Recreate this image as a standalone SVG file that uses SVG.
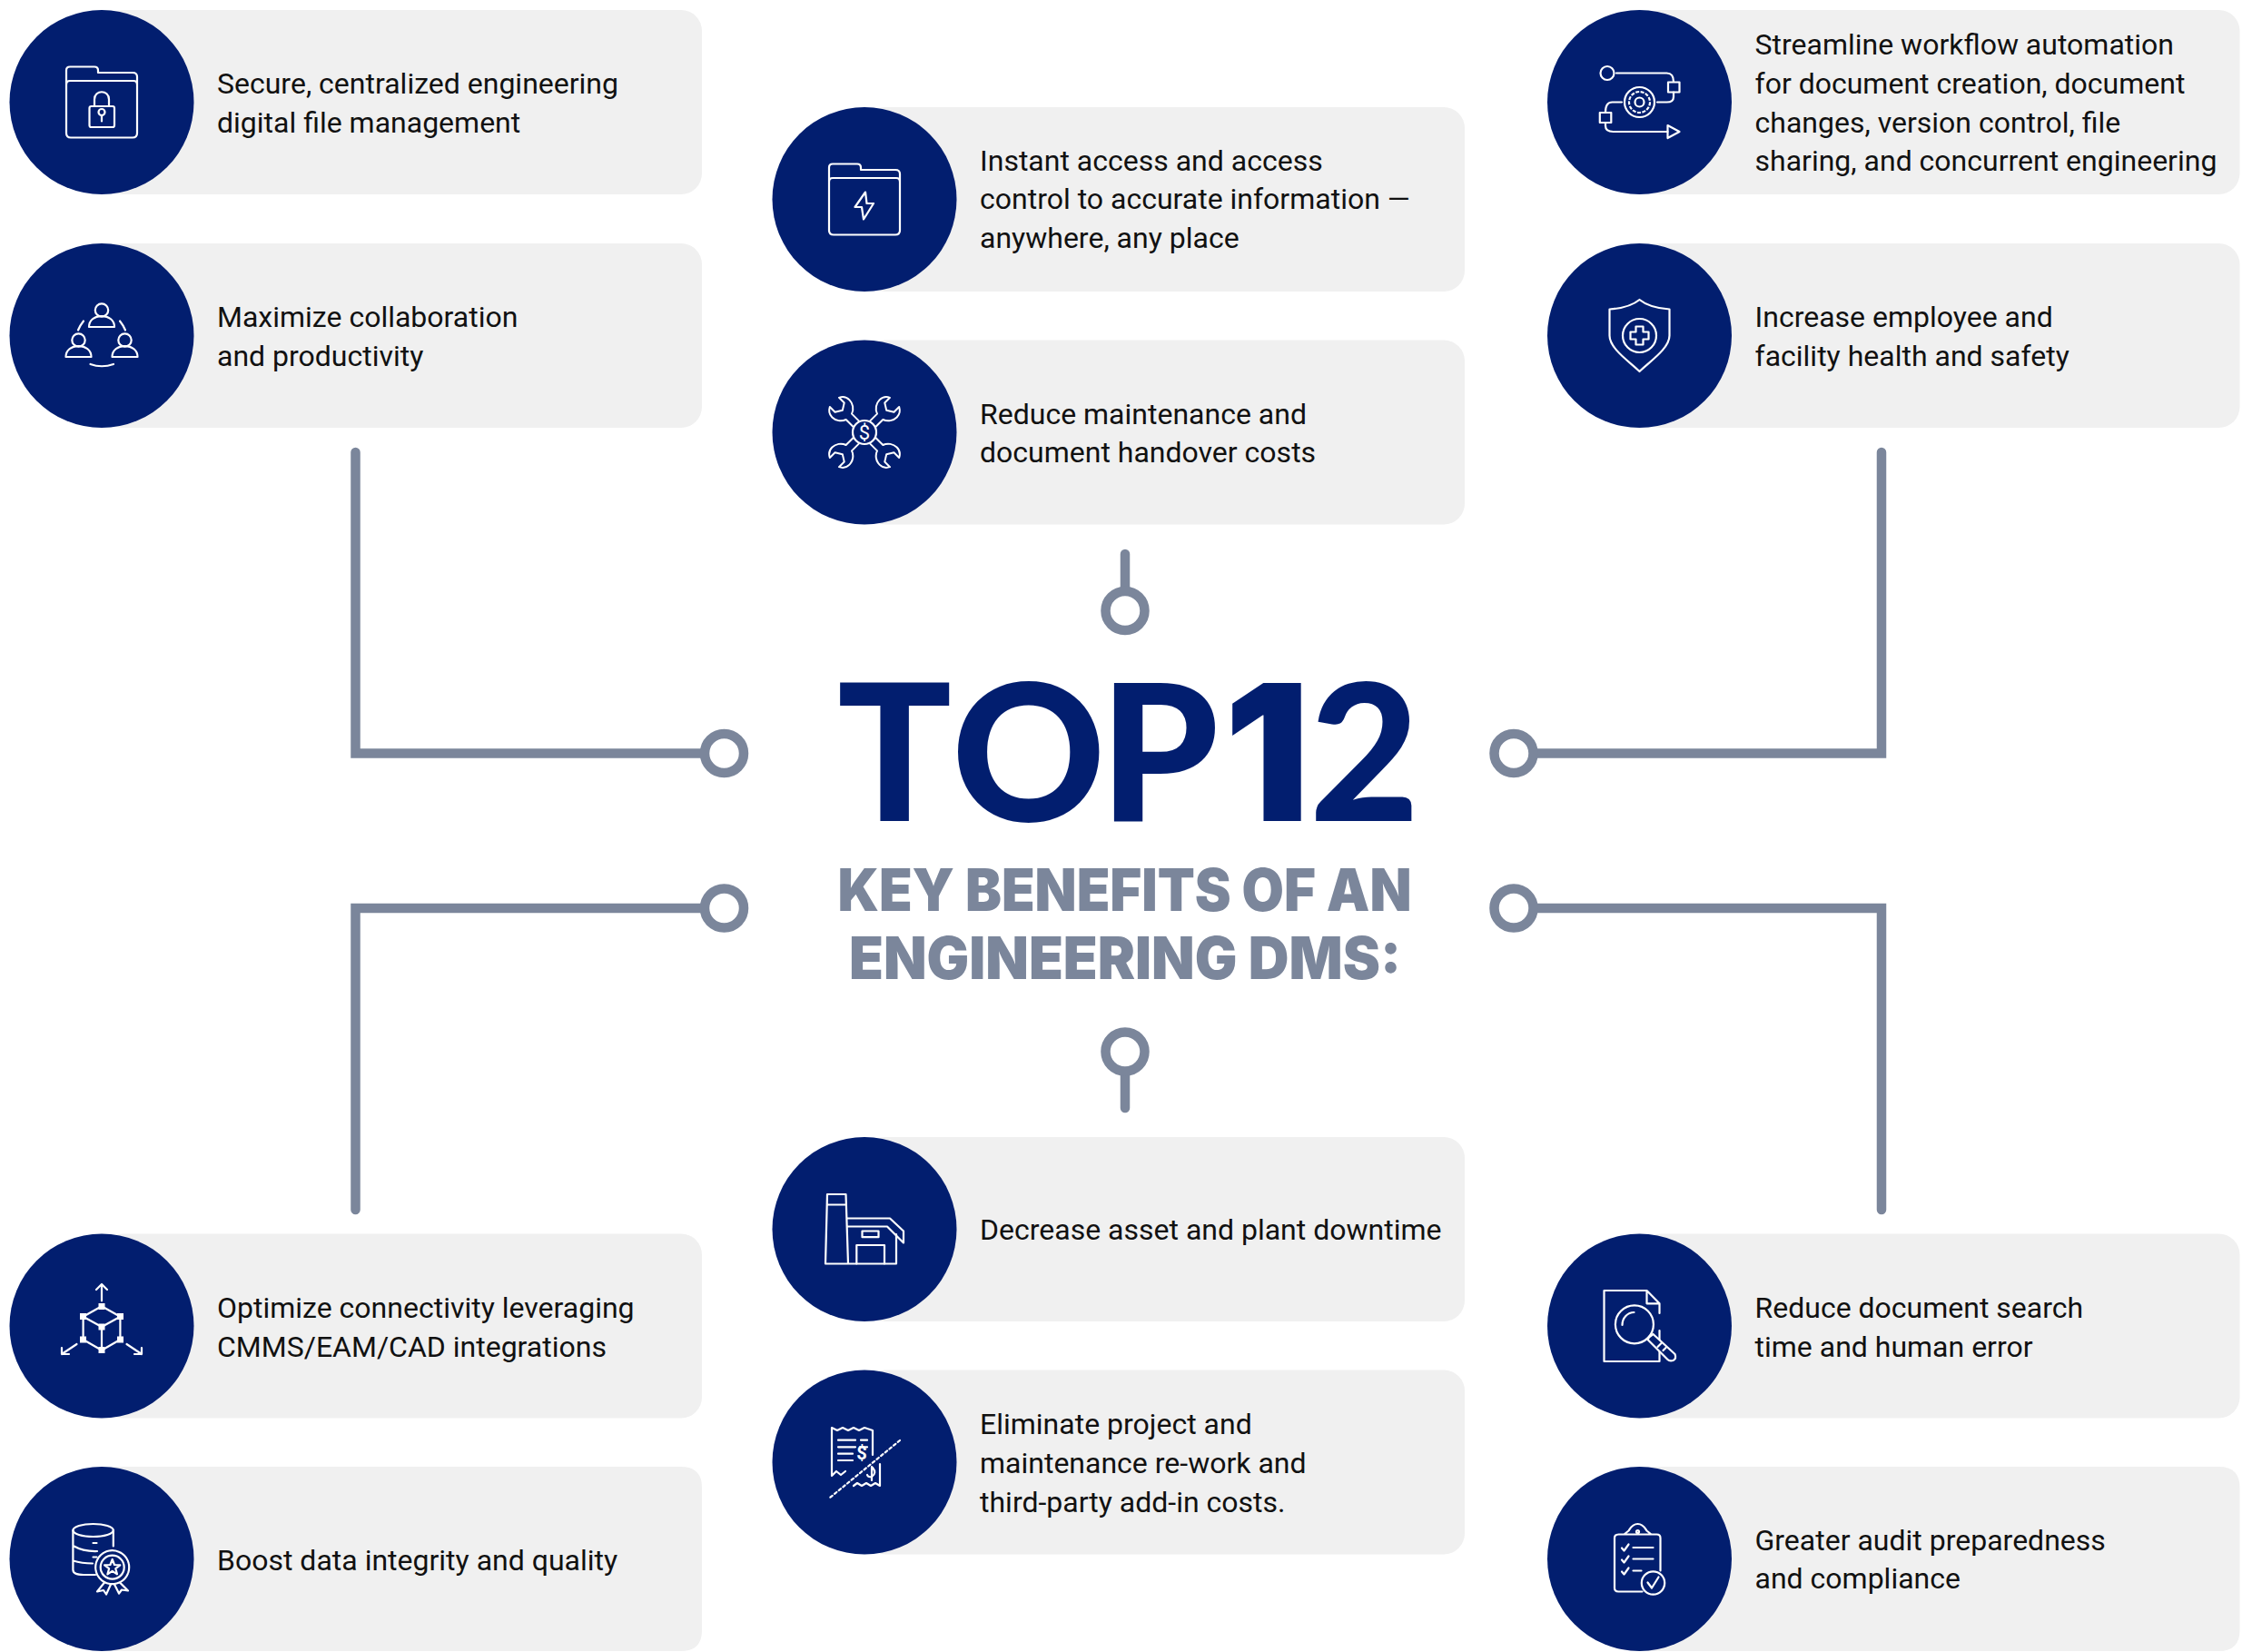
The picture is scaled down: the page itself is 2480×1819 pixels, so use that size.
<svg xmlns="http://www.w3.org/2000/svg" xmlns:xlink="http://www.w3.org/1999/xlink" width="2480" height="1819" viewBox="0 0 2480 1819">
<style>
.card{fill:#f0f0f0}
.disc{fill:#021e6f}
.t{font-family:Roboto,"Liberation Sans",sans-serif;font-size:32px;fill:#111}
.i{fill:none;stroke:#fff;stroke-width:2.2;stroke-linecap:round;stroke-linejoin:round}
.w{fill:#fff;stroke:none}
.c{fill:none;stroke:#7b869b;stroke-width:10.5;stroke-linecap:round}
.r{fill:#fff;stroke:#7b869b;stroke-width:10.5}
.h{font-family:Lato,"Liberation Sans",sans-serif;font-weight:900}
.n{font-family:Inter,"Liberation Sans",sans-serif;font-weight:900}
.s{font-family:Inter,"Liberation Sans",sans-serif;font-weight:900;font-size:64px;fill:#7b869b;text-anchor:middle}
.g{font-family:Roboto,"Liberation Sans",sans-serif;fill:#fff;text-anchor:middle}
</style>
<defs>
<g id="folder" class="i">
<path d="M-35,-23.500 H35 Q39,-23.500 39,-19 V34 Q39,39 34,39 H-34 Q-39,39 -39,34 V-35 Q-39,-39 -35,-39 H-8 Q-4,-39 -4,-35 V-32.500 H34 Q39,-32.500 39,-28 V-19 M-39,-19 Q-39,-23.500 -35,-23.500"/>
</g>
<path id="wr" d="M-5,-14 V-27 C-11,-29 -15,-35 -15,-41 C-15,-46 -12,-50 -8,-52 V-43 L0,-38 L8,-43 V-52 C12,-50 15,-46 15,-41 C15,-35 11,-29 5,-27 V-14"/>
<g id="person" class="i"><circle cx="0" cy="-9" r="7.200"/><path d="M-14,9.500 H14 C14,2 8,-2.400 0,-2.400 C-8,-2.400 -14,2 -14,9.500Z"/></g>
</defs>

<g id="connectors">
<path class="c" d="M391.500,498 V829.500 H775"/>
<path class="c" d="M2072,498 V829.500 H1690"/>
<path class="c" d="M391.500,1332 V1000 H775"/>
<path class="c" d="M2072,1332 V1000 H1690"/>
<path class="c" d="M1239,610 V650"/>
<path class="c" d="M1239,1181 V1220"/>
<circle class="r" cx="797.500" cy="829.500" r="21.500"/>
<circle class="r" cx="797.500" cy="1000" r="21.500"/>
<circle class="r" cx="1667" cy="829.500" r="21.500"/>
<circle class="r" cx="1667" cy="1000" r="21.500"/>
<circle class="r" cx="1239" cy="672.500" r="21.500"/>
<circle class="r" cx="1239" cy="1158" r="21.500"/>
</g>

<g id="title">
<text y="904" font-size="209" fill="#021e6f"><tspan class="h" x="922">T</tspan><tspan class="h" x="1048">O</tspan><tspan class="h" x="1211">P</tspan><tspan class="n" x="1348">1</tspan><tspan class="h" x="1442">2</tspan></text>
<text class="s" x="1238.500" y="1003" textLength="632" lengthAdjust="spacingAndGlyphs">KEY BENEFITS OF AN</text>
<text class="s" x="1239" y="1078" textLength="608" lengthAdjust="spacingAndGlyphs">ENGINEERING DMS:</text>
</g>

<g id="node-1" transform="translate(112,112.500)">
<rect class="card" x="0" y="-101.500" width="661" height="203" rx="23"/><circle class="disc" r="101.500"/>
<use href="#folder"/>
<g class="i"><rect x="-13.500" y="4.500" width="27.500" height="23" rx="2"/><path d="M-8,4.500 V-3 C-8,-14 8,-14 8,-3 V4.500"/><circle cy="11" r="3.500"/><path d="M0,14.500 V21"/></g>
<text class="t"><tspan x="127" y="-9.500">Secure, centralized engineering</tspan><tspan x="127" y="33">digital file management</tspan></text>
</g>

<g id="node-2" transform="translate(112,369.500)">
<rect class="card" x="0" y="-101.500" width="661" height="203" rx="23"/><circle class="disc" r="101.500"/>
<use href="#person" x="0" y="-19"/><use href="#person" x="-25.500" y="14"/><use href="#person" x="25.500" y="14"/>
<path class="i" d="M-20,-16 Q-24,-11 -26,-6 M20,-16 Q24,-11 26,-6 M-12.500,31.500 Q0,36 13,31.500"/>
<text class="t"><tspan x="127" y="-9.500">Maximize collaboration</tspan><tspan x="127" y="33">and productivity</tspan></text>
</g>

<g id="node-3" transform="translate(952,219.500)">
<rect class="card" x="0" y="-101.500" width="661" height="203" rx="23"/><circle class="disc" r="101.500"/>
<use href="#folder"/>
<path class="i" d="M1,-8 L-10.500,8.500 H-3 L-1,22 L10,4.500 H2.500 Z"/>
<text class="t"><tspan x="127" y="-32">Instant access and access</tspan><tspan x="127" y="10.700">control to accurate information —</tspan><tspan x="127" y="53.500">anywhere, any place</tspan></text>
</g>

<g id="node-4" transform="translate(952,476)">
<rect class="card" x="0" y="-101.500" width="661" height="203" rx="23"/><circle class="disc" r="101.500"/>
<g class="i"><use href="#wr" transform="rotate(45) scale(.9)"/><use href="#wr" transform="rotate(135) scale(.9)"/><use href="#wr" transform="rotate(225) scale(.9)"/><use href="#wr" transform="rotate(315) scale(.9)"/><circle r="13"/></g>
<text class="g" y="8" font-size="22">$</text>
<text class="t"><tspan x="127" y="-9.500">Reduce maintenance and</tspan><tspan x="127" y="33">document handover costs</tspan></text>
</g>

<g id="node-5" transform="translate(1805.500,112.500)">
<rect class="card" x="0" y="-101.500" width="661" height="203" rx="23"/><circle class="disc" r="101.500"/>
<g class="i">
<circle cx="-35.500" cy="-32" r="7.500"/><path d="M-25.500,-32 H30 Q37.500,-32 37.500,-22.500"/>
<rect x="31.500" y="-22" width="12.500" height="11"/><path d="M37.500,-11 V-6 Q37.500,0 30,0 H19.500"/>
<circle r="16.500"/><circle r="11.500" stroke-dasharray="4 1.500" stroke-linecap="butt"/><circle r="5"/>
<path d="M-19.500,0 H-30 Q-37.500,0 -37.500,11"/><rect x="-43.700" y="11.500" width="12.500" height="11"/>
<path d="M-37.500,22.500 V26 Q-37.500,32.500 -29,32.500 H31"/><path d="M31,25.500 L44,32.500 L31,39.500 Z"/>
</g>
<text class="t"><tspan x="127" y="-52.500">Streamline workflow automation</tspan><tspan x="127" y="-9.500">for document creation, document</tspan><tspan x="127" y="33">changes, version control, file</tspan><tspan x="127" y="75.500">sharing, and concurrent engineering</tspan></text>
</g>

<g id="node-6" transform="translate(1805.500,369.500)">
<rect class="card" x="0" y="-101.500" width="661" height="203" rx="23"/><circle class="disc" r="101.500"/>
<g class="i">
<path d="M0,-39.500 C-8,-33 -18,-30 -33,-29 V0 C-33,14 -12,28 0,39.500 C12,28 33,14 33,0 V-29 C18,-30 8,-33 0,-39.500Z"/>
<circle r="18.500"/>
<path d="M-4,-10 H4 V-4 H10 V4 H4 V10 H-4 V4 H-10 V-4 H-4Z"/>
</g>
<text class="t"><tspan x="127" y="-9.500">Increase employee and</tspan><tspan x="127" y="33">facility health and safety</tspan></text>
</g>

<g id="node-7" transform="translate(112,1460)">
<rect class="card" x="0" y="-101.500" width="661" height="203" rx="23"/><circle class="disc" r="101.500"/>
<g class="i">
<path d="M0,-27.700 V-46 M-6,-40 L0,-46 L6,-40"/>
<path d="M0,-21.700 L-20.400,-10.300 V15 L0,26.700 L20.400,15 V-10.300 Z M-20.400,-10.300 L0,1 L20.400,-10.300 M0,1 V26.700"/>
<path d="M-27.500,20 L-44,31 M-44,24 V31 H-36 M27.500,20 L44,31 M44,24 V31 H36"/>
</g>
<g class="w"><rect x="-3.500" y="-25" width="7" height="7"/><rect x="-24" y="-14" width="7" height="7"/><rect x="17" y="-14" width="7" height="7"/><rect x="-3.500" y="-2.500" width="7" height="7"/><rect x="-24" y="11.500" width="7" height="7"/><rect x="17" y="11.500" width="7" height="7"/><rect x="-3.500" y="23" width="7" height="7"/></g>
<text class="t"><tspan x="127" y="-9.500">Optimize connectivity leveraging</tspan><tspan x="127" y="33.500">CMMS/EAM/CAD integrations</tspan></text>
</g>

<g id="node-8" transform="translate(112,1716.500)">
<path class="card" d="M0,-101.500 H638 Q661,-101.500 661,-78.500 V78.500 Q661,101.500 638,101.500 H0 Z"/><circle class="disc" r="101.500"/>
<g class="i">
<ellipse cx="-9.400" cy="-31.500" rx="22.200" ry="7"/>
<path d="M-31.600,-31.500 V12 Q-31.600,17.500 -20,17.500 H-7 M12.800,-31.500 V-14 M-31.600,-14.500 Q-20,-8 -5,-8.500 M-31.600,2 Q-22,5 -10,5"/>
<path d="M-9.500,-17.500 H-5.500 M-9.500,-2 H-5.500"/>
<circle cx="11.700" cy="9.200" r="18.500" stroke-dasharray="6 1" /><circle cx="11.700" cy="9.200" r="13"/>
<path d="M11.700,0.500 L14,6.500 L20.300,6.800 L15.300,10.700 L17,16.800 L11.700,13.300 L6.400,16.800 L8.100,10.700 L3.100,6.800 L9.400,6.500 Z"/>
<path d="M3,26 L-5,36 L2,34.500 L5,39 L10,28 M20,26 L29,35 L22,34 L19,38 L14,28"/>
</g>
<text class="t"><tspan x="127" y="12">Boost data integrity and quality</tspan></text>
</g>

<g id="node-9" transform="translate(952,1353.500)">
<rect class="card" x="0" y="-101.500" width="661" height="203" rx="23"/><circle class="disc" r="101.500"/>
<g class="i">
<path d="M-43,38 L-41,-38.500 H-20.500 L-18,38 M-41,-27 H-20.500 M-43,38 H35 V5.500"/>
<path d="M-19,-12 H28 L43,2 V15 L25,-3 H-19"/>
<path d="M-8.700,38 V17.500 H22 V38"/><rect x="-2.500" y="2" width="18" height="6.700"/>
</g>
<text class="t"><tspan x="127" y="11.500">Decrease asset and plant downtime</tspan></text>
</g>

<g id="node-10" transform="translate(952,1610)">
<rect class="card" x="0" y="-101.500" width="661" height="203" rx="23"/><circle class="disc" r="101.500"/>
<g class="i" stroke-width="2">
<path d="M-36,15 V-38 L-30,-35 L-24,-38 L-18,-35 L-12,-38 L-6,-35 L0,-38 L9,-35 V-8 M-36,15 L-31,10 L-26,14 L-21,10 M17,2 V26 L12,23 L7,26 L2,23 L-3,26 L-8,23 L-12,26"/>
<path d="M-29,-24.300 H-10 M-4,-24.300 H3 M-29,-16.700 H-10 M-5,-16.700 H3 M-29,-9.300 H-13 M-29,-2 H-13"/>
<path d="M39,-24 L-38,39" stroke-dasharray="3 3"/>
<path d="M9,6 Q14,12 8,16 Q4,17 3,14 M8,5 V20"/>
</g>
<text class="g" x="-3" y="-3" font-size="20" font-weight="700">$</text>
<text class="t"><tspan x="127" y="-31">Eliminate project and</tspan><tspan x="127" y="11.700">maintenance re-work and</tspan><tspan x="127" y="54.500">third-party add-in costs.</tspan></text>
</g>

<g id="node-11" transform="translate(1805.500,1460)">
<rect class="card" x="0" y="-101.500" width="661" height="203" rx="23"/><circle class="disc" r="101.500"/>
<g class="i">
<path d="M22,5 V39 H-39 V-39 H8 L22,-24.700 V-14 M8,-39 V-24.700 H22"/>
<circle cx="-5.600" cy="-1.700" r="21" fill="#021e6f"/>
<path d="M-19,-1 C-19,-9 -13,-15 -6,-15"/>
<path d="M11,12 L15,9 L39,31 Q41,36 37,38 Q33,39 31,37 L9,15 Z" fill="#021e6f"/>
<path d="M24,19 L20,23 M29,24 L26,27"/>
</g>
<text class="t"><tspan x="127" y="-9.500">Reduce document search</tspan><tspan x="127" y="33.500">time and human error</tspan></text>
</g>

<g id="node-12" transform="translate(1805.500,1716.500)">
<path class="card" d="M0,-101.500 H638 Q661,-101.500 661,-78.500 V78.500 Q661,101.500 638,101.500 H0 Z"/><circle class="disc" r="101.500"/>
<g class="i">
<path d="M-17,-27 H-23 Q-27.500,-27 -27.500,-23 V32 Q-27.500,36 -23,36 H3 M23,13 V-23 Q23,-27 19,-27 H13 L8,-31 C6,-34 4,-38.500 -2,-38.500 C-8,-38.500 -10,-34 -12,-31 L-17,-27 H13"/>
<circle cx="-2" cy="-30" r="1.500"/>
<path d="M-19.500,-12 L-17,-9 L-12,-16 M-19.500,1 L-17,4 L-12,-3 M-19.500,14 L-17,17 L-12,10"/>
<path d="M-7,-12.500 H15 M-7,0 H15 M-7,13 H2"/>
<circle cx="15" cy="26.500" r="12.700"/><path d="M9,26 L13.500,32 L21,20"/>
</g>
<text class="t"><tspan x="127" y="-10">Greater audit preparedness</tspan><tspan x="127" y="32.700">and compliance</tspan></text>
</g>
</svg>
